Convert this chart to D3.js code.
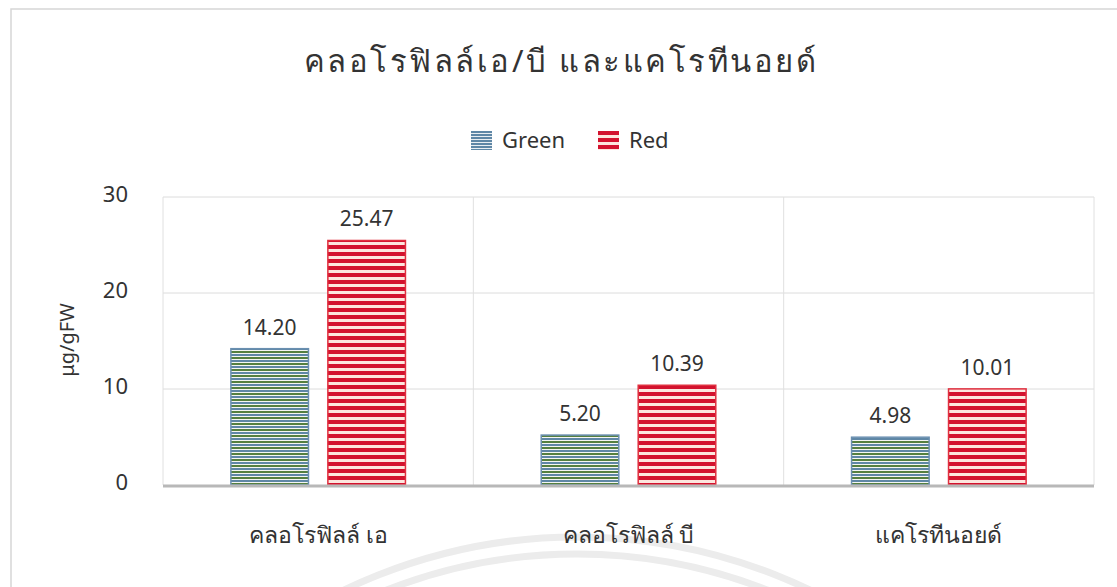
<!DOCTYPE html>
<html>
<head>
<meta charset="utf-8">
<script src="https://cdn.jsdelivr.net/npm/d3@7"></script>
<style>
  body { margin: 0; background: #fff; }
  text { font-family: "Noto Sans", "Open Sans", "DejaVu Sans", sans-serif; fill: #333; }
</style>
</head>
<body>
<script>
// Chart data
var categories = ["คลอโรฟิลล์ เอ", "คลอโรฟิลล์ บี", "แคโรทีนอยด์"];
var seriesNames = ["Green", "Red"];
var greenValues = [14.20, 5.20, 4.98];
var redValues = [25.47, 10.39, 10.01];
var yTicks = [0, 10, 20, 30];

var w = 1117, h = 587;

var svg = d3.select("body")
    .append("svg")
    .attr("width", w)
    .attr("height", h);

// Patterns for the striped bars
var defs = svg.append("defs");

var pg = defs.append("pattern")
    .attr("id", "greenStripes")
    .attr("patternUnits", "userSpaceOnUse")
    .attr("width", 8).attr("height", 6);
pg.append("rect").attr("width", 8).attr("height", 6).attr("fill", "#f4f6f2");
pg.append("rect").attr("y", 0).attr("width", 8).attr("height", 2).attr("fill", "#5f87a6");
pg.append("rect").attr("y", 3).attr("width", 8).attr("height", 2).attr("fill", "#55803f");

var pr = defs.append("pattern")
    .attr("id", "redStripes")
    .attr("patternUnits", "userSpaceOnUse")
    .attr("width", 8).attr("height", 7);
pr.append("rect").attr("width", 8).attr("height", 7).attr("fill", "#fde6de");
pr.append("rect").attr("y", 0).attr("width", 8).attr("height", 4).attr("fill", "#d3122e");

var pl = defs.append("pattern")
    .attr("id", "legendGreen")
    .attr("patternUnits", "userSpaceOnUse")
    .attr("width", 8).attr("height", 3);
pl.append("rect").attr("width", 8).attr("height", 3).attr("fill", "#e9eef2");
pl.append("rect").attr("width", 8).attr("height", 2).attr("fill", "#5f87a6");

var fills = { "Green": "url(#greenStripes)", "Red": "url(#redStripes)" };
var strokes = { "Green": "#6a8fb0", "Red": "#e0303f" };

// Outer frame of the scanned chart
svg.append("rect")
    .attr("x", 11).attr("y", 9)
    .attr("width", w + 10).attr("height", h + 10)
    .attr("fill", "none")
    .attr("stroke", "#d6d6d6")
    .attr("stroke-width", 1.5);

// Faint watermark arcs
[538, 521].forEach(function(r){
    svg.append("circle")
        .attr("cx", 577).attr("cy", 1075).attr("r", r)
        .attr("fill", "none")
        .attr("stroke", "#ececec")
        .attr("stroke-width", 7);
});

// Plot area edges
var plotLeft = 163, plotRight = 1094, plotTop = 197, plotBottom = 485;

var x0 = d3.scaleBand()
    .domain(categories)
    .range([plotLeft, plotRight]);

var x1 = d3.scaleBand()
    .domain(seriesNames)
    .range([0, x0.bandwidth()])
    .paddingInner(0.2)
    .paddingOuter(0.7);

var y = d3.scaleLinear()
    .domain([0, 30])
    .range([plotBottom, plotTop]);

// Grid lines
svg.append("g")
    .selectAll("line")
    .data(yTicks.slice(1))
    .enter()
    .append("line")
    .attr("x1", plotLeft).attr("x2", plotRight)
    .attr("y1", function(d){ return y(d); })
    .attr("y2", function(d){ return y(d); })
    .attr("stroke", "#dcdcdc")
    .attr("stroke-width", 1);

var bounds = categories.map(function(c){ return x0(c); }).concat([plotRight]);
svg.append("g")
    .selectAll("line")
    .data(bounds)
    .enter()
    .append("line")
    .attr("x1", function(d){ return d; })
    .attr("x2", function(d){ return d; })
    .attr("y1", y(30)).attr("y2", y(0))
    .attr("stroke", "#e0e0e0")
    .attr("stroke-width", 1);

// Y axis tick labels
var yAxis = d3.axisLeft(y)
    .tickValues(yTicks)
    .tickSize(0)
    .tickPadding(0);

var axis = svg.append("g")
    .attr("transform", "translate(128,-3)")
    .call(yAxis);
axis.select(".domain").remove();
axis.attr("font-family", null).attr("font-size", null);
axis.selectAll("text")
    .attr("font-size", 22)
    .attr("fill", "#333");

// Rows of data per category
var rows = categories.map(function(c, i){
    return { cat: c, vals: [
        { key: "Green", value: greenValues[i] },
        { key: "Red", value: redValues[i] }
    ]};
});

var groups = svg.selectAll(".group")
    .data(rows)
    .enter()
    .append("g")
    .attr("class", "group")
    .attr("transform", function(d){ return "translate(" + x0(d.cat) + ",0)"; });

groups.selectAll("rect")
    .data(function(d){ return d.vals; })
    .enter()
    .append("rect")
    .attr("x", function(d){ return x1(d.key); })
    .attr("y", function(d){ return y(d.value); })
    .attr("width", x1.bandwidth())
    .attr("height", function(d){ return y(0) - y(d.value); })
    .attr("fill", function(d){ return fills[d.key]; })
    .attr("stroke", function(d){ return strokes[d.key]; })
    .attr("stroke-width", 1.5);

// Value labels
groups.selectAll(".val")
    .data(function(d){ return d.vals; })
    .enter()
    .append("text")
    .attr("class", "val")
    .attr("text-anchor", "middle")
    .attr("x", function(d){ return x1(d.key) + x1.bandwidth() / 2; })
    .attr("y", function(d){ return y(d.value) - 14; })
    .attr("font-size", 21)
    .text(function(d){ return d.value.toFixed(2); });

// Baseline
svg.append("line")
    .attr("x1", plotLeft).attr("x2", plotRight)
    .attr("y1", y(0) + 1).attr("y2", y(0) + 1)
    .attr("stroke", "#b8b8b8")
    .attr("stroke-width", 3);

// Category labels
svg.selectAll(".cat")
    .data(categories)
    .enter()
    .append("text")
    .attr("class", "cat")
    .attr("text-anchor", "middle")
    .attr("x", function(d){ return x0(d) + x0.bandwidth() / 2; })
    .attr("y", 543)
    .attr("font-size", 23)
    .text(function(d){ return d; });

// Y axis title
svg.append("text")
    .attr("transform", "translate(74,340) rotate(-90)")
    .attr("text-anchor", "middle")
    .attr("font-size", 20)
    .text("μg/gFW");

// Title
svg.append("text")
    .attr("x", 561).attr("y", 72)
    .attr("text-anchor", "middle")
    .attr("font-size", 31)
    .attr("letter-spacing", 2.5)
    .text("คลอโรฟิลล์เอ/บี และแคโรทีนอยด์");

// Legend
var legend = svg.append("g")
    .selectAll("g")
    .data(seriesNames)
    .enter()
    .append("g")
    .attr("transform", function(d, i){ return "translate(" + (471 + i * 127) + ",131)"; });

legend.append("rect")
    .attr("width", 21).attr("height", 19)
    .attr("fill", function(d){ return d === "Green" ? "url(#legendGreen)" : "url(#redStripes)"; });

legend.append("text")
    .attr("x", 31).attr("y", 17)
    .attr("font-size", 22)
    .text(function(d){ return d; });
</script>
</body>
</html>
